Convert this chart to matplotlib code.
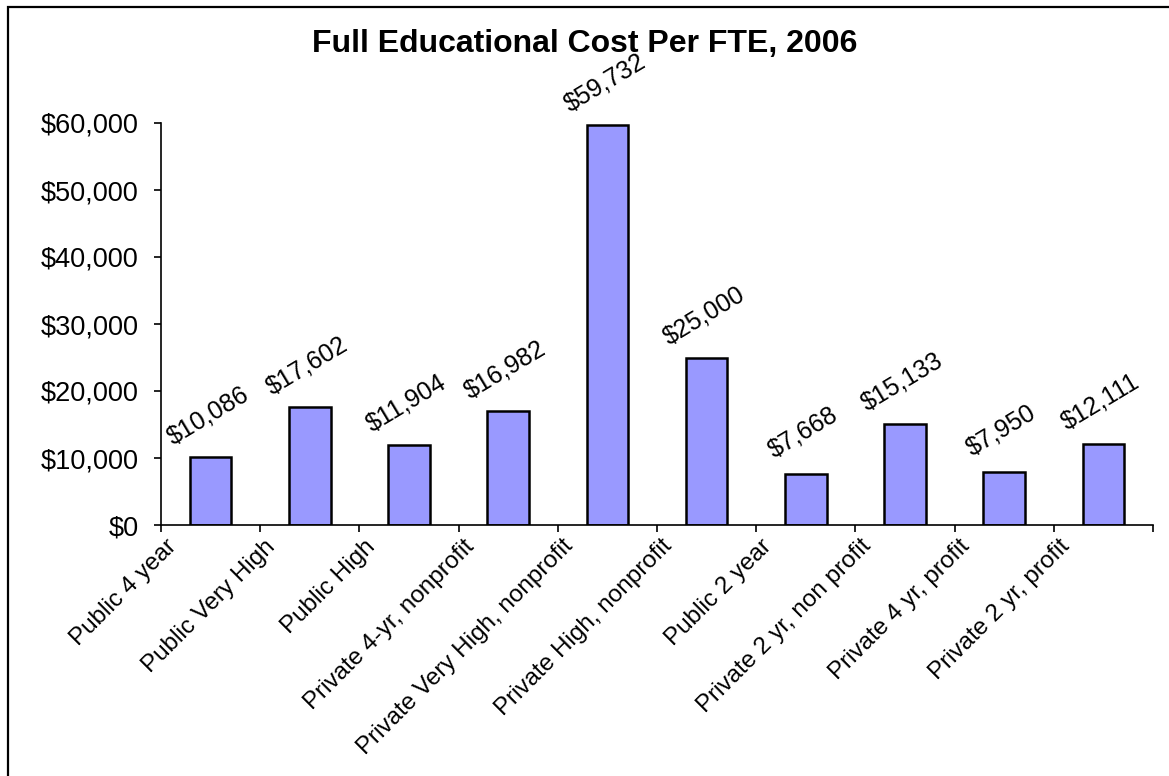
import matplotlib
matplotlib.use("Agg")
import matplotlib.pyplot as plt
from matplotlib.patches import Rectangle
from matplotlib.ticker import FuncFormatter, FixedLocator

plt.rcParams['font.family'] = ['Liberation Sans', 'DejaVu Sans']

# Cost per full-time-equivalent student, by sector
categories = [
    "Public 4 year",
    "Public Very High",
    "Public High",
    "Private 4-yr, nonprofit",
    "Private Very High, nonprofit",
    "Private High, nonprofit",
    "Public 2 year",
    "Private 2 yr, non profit",
    "Private 4 yr, profit",
    "Private 2 yr, profit",
]
costs = [10086, 17602, 11904, 16982, 59732, 25000, 7668, 15133, 7950, 12111]
y_ticks = [0, 10000, 20000, 30000, 40000, 50000, 60000]

W, H = 1169, 776
fig = plt.figure(figsize=(W / 100, H / 100), dpi=100)
fig.patch.set_facecolor("white")

# chart-area border (runs off the right and bottom edges)
fig.patches.append(Rectangle((8 / W, -0.05), 1.1, 1 - 7 / H + 0.05,
                             transform=fig.transFigure, fill=False,
                             edgecolor="black", linewidth=1.6))

ax = fig.add_axes([161 / W, 1 - 525 / H, (1153 - 161) / W, (525 - 123) / H])
ax.set_facecolor("none")

x = list(range(len(categories)))
ax.bar(x, costs, width=0.42, color="#9999FF", edgecolor="black", linewidth=1.8)

ax.set_xlim(-0.5, len(categories) - 0.5)
ax.set_ylim(0, 60000)

for s in ("top", "right"):
    ax.spines[s].set_visible(False)
for s in ("left", "bottom"):
    ax.spines[s].set_linewidth(1.2)

ax.yaxis.set_major_locator(FixedLocator(y_ticks))
ax.yaxis.set_major_formatter(FuncFormatter(lambda v, p: f"${v:,.0f}"))
ax.tick_params(axis="y", direction="out", length=5, width=1.2, pad=11, labelsize=19.5)

# tick marks between categories, labels placed separately
ax.xaxis.set_major_locator(FixedLocator([i - 0.5 for i in range(len(categories) + 1)]))
ax.tick_params(axis="x", direction="out", length=5, width=1.2, labelbottom=False)

for xi, name in zip(x, categories):
    ax.annotate(name, xy=(xi, 0), xytext=(-27, -13), textcoords="offset points",
                rotation=45, rotation_mode="anchor", ha="right", va="center",
                fontsize=17.5, annotation_clip=False)

for xi, v in zip(x, costs):
    ax.annotate(f"${v:,.0f}", xy=(xi, v), xytext=(-2, 30), textcoords="offset points",
                rotation=31, rotation_mode="anchor", ha="center", va="center",
                fontsize=18, annotation_clip=False)

fig.text(585 / W, 1 - 44 / H, "Full Educational Cost Per FTE, 2006",
         ha="center", va="center", fontsize=23, fontweight="bold")

fig.savefig("out.png", dpi=100)
